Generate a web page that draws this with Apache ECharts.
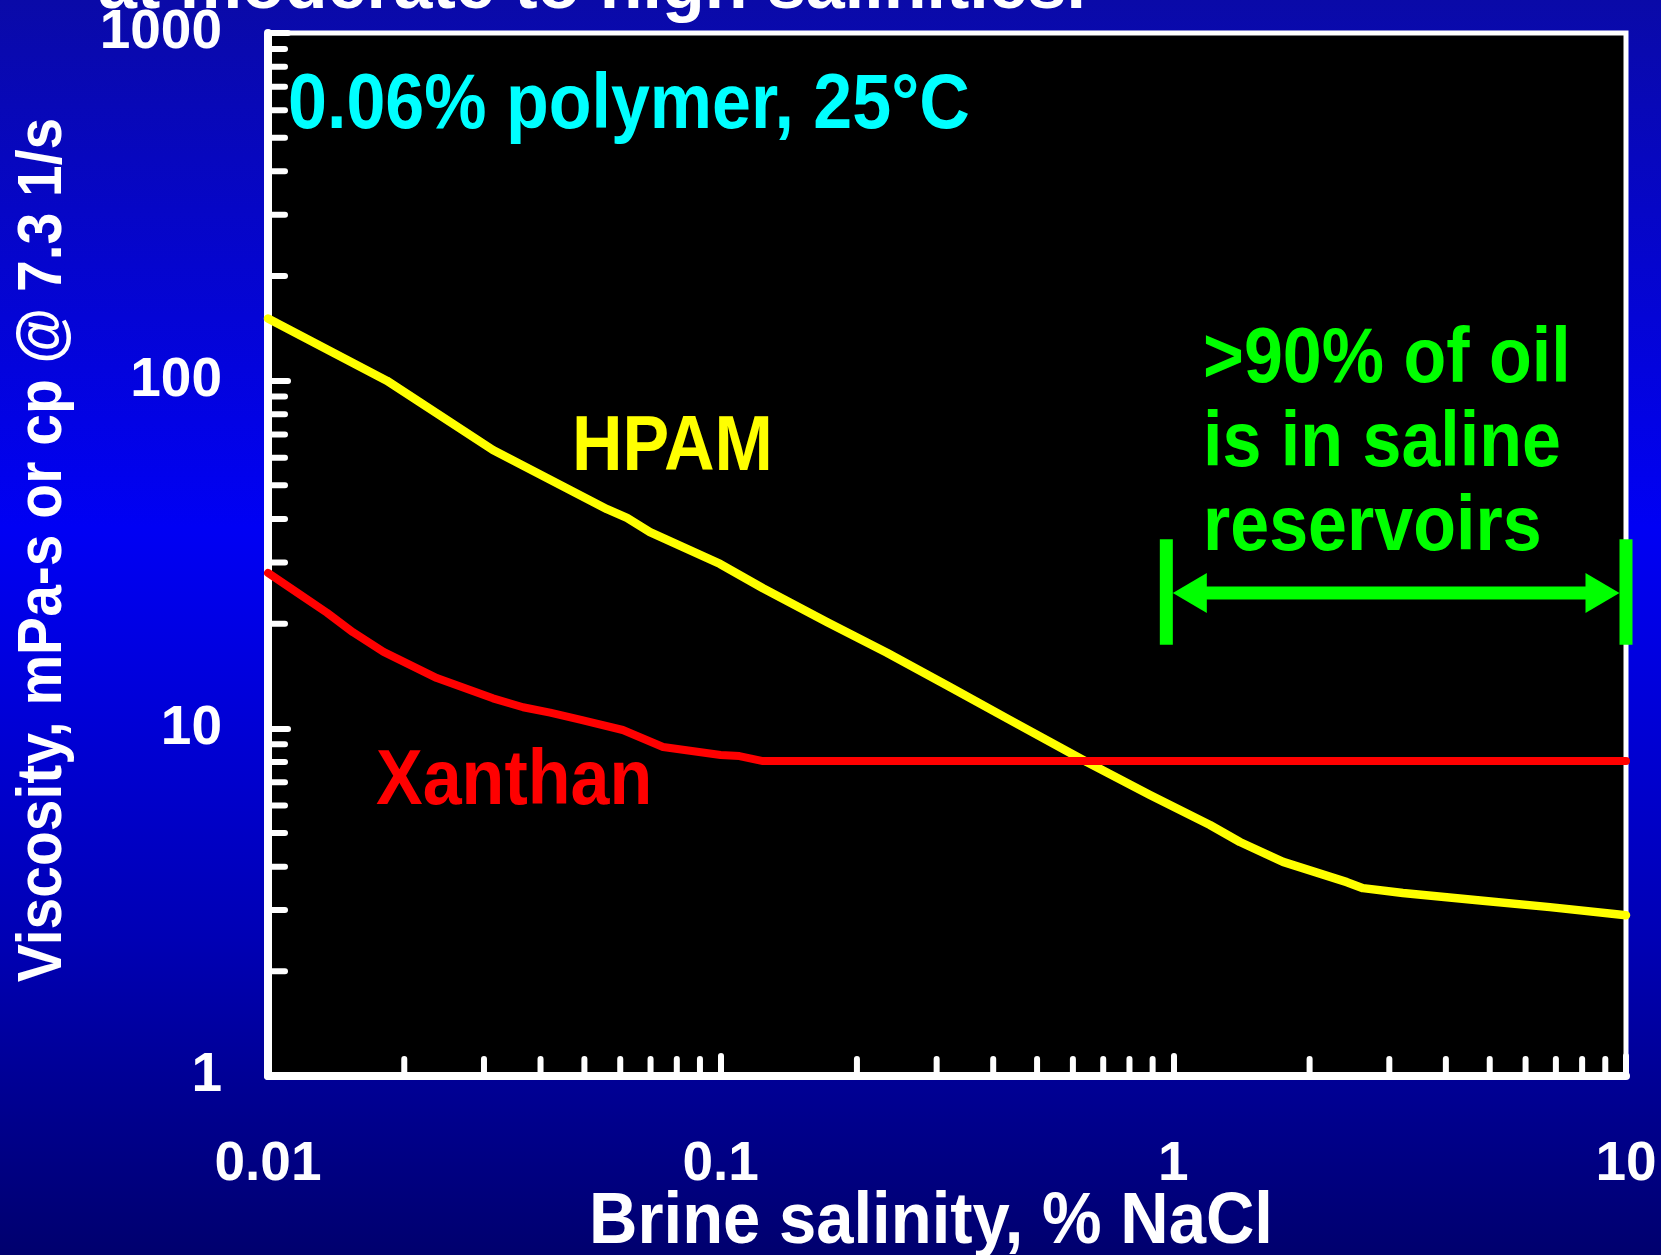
<!DOCTYPE html>
<html>
<head>
<meta charset="utf-8">
<script src="https://cdn.jsdelivr.net/npm/echarts@6/dist/echarts.min.js"></script>
<style>
  html, body { margin: 0; padding: 0; background: #00008a; }
  #chart { width: 1661px; height: 1255px; }
</style>
</head>
<body>
<div id="chart"></div>
<script>
// Brine salinity (% NaCl) vs. viscosity (mPa-s) for two polymers at 0.06 %, 25 °C
const hpamSalinity  = [0.01, 0.0183, 0.0314, 0.0561, 0.0621, 0.0698, 0.0997, 0.124, 0.172, 0.233, 0.321, 0.436, 0.644, 0.888, 1.205, 1.403, 1.747, 2.418, 2.624, 3.215, 4.83, 6.79, 10];
const hpamViscosity = [151, 100, 63.2, 42.7, 40.3, 36.7, 29.7, 25.3, 20.2, 16.5, 13.15, 10.56, 8.0, 6.43, 5.27, 4.71, 4.13, 3.61, 3.47, 3.36, 3.19, 3.06, 2.90];

const xanthanSalinity  = [0.01, 0.0118, 0.0135, 0.0154, 0.018, 0.0236, 0.0314, 0.0366, 0.042, 0.0489, 0.0608, 0.0746, 0.1, 0.11, 0.124, 10];
const xanthanViscosity = [28, 24.2, 21.5, 18.9, 16.6, 13.95, 12.2, 11.5, 11.1, 10.6, 9.89, 8.84, 8.38, 8.32, 8.05, 8.05];

// Axis decades, their labels and the minor multiples between them
const xDecades = [0.01, 0.1, 1];
const yDecades = [1, 10, 100];
const xTickLabels = ['0.01', '0.1', '1', '10'];
const yTickLabels = ['1', '10', '100', '1000'];
const minorMultiples = [2, 3, 4, 5, 6, 7, 8, 9];
const xRange = [0.01, 10];
const yRange = [1, 1000];

// Saline-reservoir bracket: salinity span, arrow level and bar extent (viscosity units)
const oilRange = [0.965, 10];
const arrowLevel = 24.5;
const bracketSpan = [17.4, 35];

const FONT = "'Liberation Sans', Arial, Helvetica, sans-serif";
const WHITE = '#ffffff';

const pairs = (xs, ys) => xs.map((x, i) => [x, ys[i]]);

const xMinorTicks = [];
xDecades.forEach(d => minorMultiples.forEach(m => xMinorTicks.push([+(m * d).toPrecision(6), yRange[0]])));
const yMinorTicks = [];
yDecades.forEach(d => minorMultiples.forEach(m => yMinorTicks.push([xRange[0], +(m * d).toPrecision(6)])));

// Label text for a decade value, looked up in the tick label lists
function decadeLabel(list, value) {
  const e = Math.round(Math.log10(value));
  const hit = list.find(s => Math.round(Math.log10(parseFloat(s))) === e);
  return hit || '';
}

function minorTickSeries(points, horizontalAxis) {
  return {
    type: 'custom',
    silent: true,
    clip: false,
    z: 5,
    data: points,
    renderItem: function (params, api) {
      const p = api.coord([api.value(0), api.value(1)]);
      const len = 17;
      const shape = horizontalAxis
        ? { x1: p[0], y1: p[1], x2: p[0], y2: p[1] - len }
        : { x1: p[0], y1: p[1], x2: p[0] + len, y2: p[1] };
      return { type: 'line', shape: shape, style: { stroke: WHITE, lineWidth: 6, lineCap: 'round' } };
    }
  };
}

function textEl(text, x, y, color, size, opts) {
  opts = opts || {};
  return Object.assign({
    type: 'text',
    x: x,
    y: y,
    silent: true,
    z: 10,
    scaleY: opts.scaleY || 1.1,
    style: {
      text: text,
      fill: color,
      fontSize: size,
      fontWeight: 'bold',
      fontFamily: FONT,
      align: opts.align || 'left',
      textAlign: opts.align || 'left',
      verticalAlign: 'middle',
      textVerticalAlign: 'middle'
    }
  }, opts.extra || {});
}

const chart = echarts.init(document.getElementById('chart'), null, { renderer: 'canvas' });

const option = {
  animation: false,
  backgroundColor: {
    type: 'linear', x: 0, y: 0, x2: 0, y2: 1,
    colorStops: [
      { offset: 0, color: '#0a0aa8' },
      { offset: 0.42, color: '#0000f4' },
      { offset: 0.75, color: '#0000b4' },
      { offset: 1, color: '#00006e' }
    ]
  },
  grid: {
    left: 268, right: 35, top: 33, bottom: 179,
    show: true,
    backgroundColor: '#000000',
    borderColor: WHITE,
    borderWidth: 5
  },
  xAxis: {
    type: 'log',
    logBase: 10,
    min: xRange[0],
    max: xRange[1],
    axisLine: { show: true, lineStyle: { color: WHITE, width: 8, cap: 'round' } },
    axisTick: { show: true, inside: true, length: 20, lineStyle: { color: WHITE, width: 6, cap: 'round' } },
    minorTick: { show: false },
    splitLine: { show: false },
    axisLabel: {
      color: WHITE, fontSize: 55, fontWeight: 'bold', fontFamily: FONT, margin: 61,
      showMinLabel: true, showMaxLabel: true,
      formatter: v => decadeLabel(xTickLabels, v)
    }
  },
  yAxis: {
    type: 'log',
    logBase: 10,
    min: yRange[0],
    max: yRange[1],
    axisLine: { show: true, lineStyle: { color: WHITE, width: 8, cap: 'round' } },
    axisTick: { show: true, inside: true, length: 20, lineStyle: { color: WHITE, width: 6, cap: 'round' } },
    minorTick: { show: false },
    splitLine: { show: false },
    axisLabel: {
      color: WHITE, fontSize: 55, fontWeight: 'bold', fontFamily: FONT, margin: 46,
      padding: [9, 0, 0, 0],
      showMinLabel: true, showMaxLabel: true,
      formatter: v => decadeLabel(yTickLabels, v)
    }
  },
  series: [
    minorTickSeries(xMinorTicks, true),
    minorTickSeries(yMinorTicks, false),
    {
      name: 'HPAM',
      type: 'line',
      data: pairs(hpamSalinity, hpamViscosity),
      showSymbol: false,
      smooth: false,
      lineStyle: { color: '#ffff00', width: 8.5, cap: 'round', join: 'round' },
      z: 3
    },
    {
      name: 'Xanthan',
      type: 'line',
      data: pairs(xanthanSalinity, xanthanViscosity),
      showSymbol: false,
      smooth: false,
      lineStyle: { color: '#ff0000', width: 8, cap: 'round', join: 'round' },
      z: 4
    },
    {
      name: 'saline range',
      type: 'custom',
      silent: true,
      clip: false,
      z: 6,
      data: [[oilRange[0], oilRange[1], arrowLevel, bracketSpan[0], bracketSpan[1]]],
      encode: { x: [0, 1], y: [2, 3, 4] },
      renderItem: function (params, api) {
        const a = api.coord([api.value(0), api.value(2)]);
        const b = api.coord([api.value(1), api.value(2)]);
        const top = api.coord([api.value(0), api.value(4)])[1];
        const bot = api.coord([api.value(0), api.value(3)])[1];
        const bw = 13, hl = 34, hh = 20, lw = 13;
        const green = '#00ff00';
        const s = { fill: green };
        return {
          type: 'group',
          children: [
            { type: 'rect', shape: { x: a[0] - bw / 2, y: top, width: bw, height: bot - top }, style: s },
            { type: 'rect', shape: { x: b[0] - bw / 2, y: top, width: bw, height: bot - top }, style: s },
            { type: 'rect', shape: { x: a[0] + bw / 2 + hl - 1, y: a[1] - lw / 2, width: (b[0] - bw / 2 - hl) - (a[0] + bw / 2 + hl) + 2, height: lw }, style: s },
            { type: 'polygon', shape: { points: [[a[0] + bw / 2, a[1]], [a[0] + bw / 2 + hl, a[1] - hh], [a[0] + bw / 2 + hl, a[1] + hh]] }, style: s },
            { type: 'polygon', shape: { points: [[b[0] - bw / 2, b[1]], [b[0] - bw / 2 - hl, b[1] - hh], [b[0] - bw / 2 - hl, b[1] + hh]] }, style: s }
          ]
        };
      }
    }
  ],
  graphic: {
    elements: [
      textEl('at moderate to high salinities.', 98, -11, WHITE, 70, { scaleY: 1 }),
      textEl('0.06% polymer, 25°C', 288, 106.5, '#00ffff', 70),
      textEl('HPAM', 572, 448.5, '#ffff00', 70),
      textEl('Xanthan', 376, 782.5, '#ff0000', 70),
      textEl('>90% of oil', 1203, 360.5, '#00ff00', 70),
      textEl('is in saline', 1203, 444.5, '#00ff00', 70),
      textEl('reservoirs', 1203, 528.5, '#00ff00', 70),
      textEl('Brine salinity, % NaCl', 931, 1223, WHITE, 67, { align: 'center', scaleY: 1.08 }),
      textEl('Viscosity, mPa-s or cp @ 7.3 1/s', 44, 550, WHITE, 57, { align: 'center', scaleY: 1.1, extra: { rotation: Math.PI / 2 } })
    ]
  }
};

chart.setOption(option);
</script>
</body>
</html>
